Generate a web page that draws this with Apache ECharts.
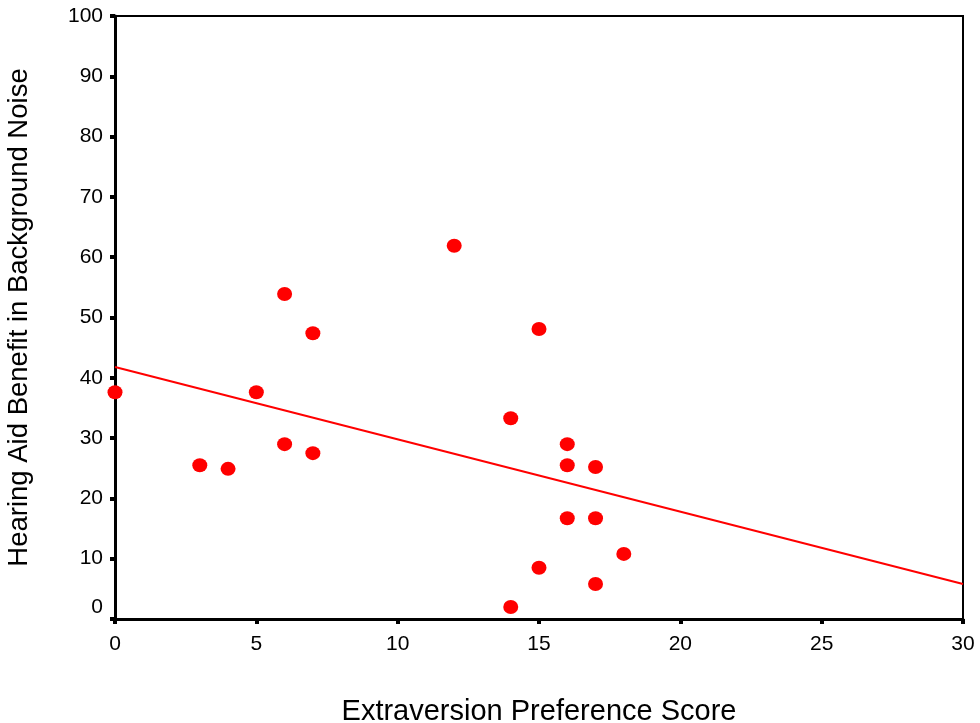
<!DOCTYPE html>
<html>
<head>
<meta charset="utf-8">
<script src="https://cdn.jsdelivr.net/npm/echarts@6/dist/echarts.min.js"></script>
<style>
  html, body { margin: 0; padding: 0; background: #fff; }
  #chart { width: 980px; height: 723px; }
</style>
</head>
<body>
<div id="chart"></div>
<script>
// extraversion score vs benefit
const scoreX = [0, 3, 4, 5, 6, 6, 7, 7, 12, 14, 14, 15, 15, 16, 16, 16, 17, 17, 17, 18];
const benefitY = [37.6, 25.5, 24.9, 37.6, 53.9, 29.0, 47.4, 27.5, 61.9, 33.3, 2.0, 48.1, 8.5, 29.0, 25.5, 16.7, 25.2, 16.7, 5.8, 10.8];
// fitted line end points
const fitX = [0, 30];
const fitY = [41.8, 5.8];

const points = scoreX.map((x, i) => [x, benefitY[i]]);
const fitLine = fitX.map((x, i) => [x, fitY[i]]);

const myChart = echarts.init(document.getElementById('chart'));
const font = 'Liberation Sans, Arial, sans-serif';

const option = {
  backgroundColor: '#fff',
  animation: false,
  grid: {
    left: 115,
    right: 17,
    top: 16,
    bottom: 104,
    outerBoundsMode: 'none',
    containLabel: false,
    show: true,
    borderColor: '#000',
    borderWidth: 2,
  },
  xAxis: {
    type: 'value',
    min: 0,
    max: 30,
    interval: 5,
    name: 'Extraversion Preference Score',
    nameLocation: 'middle',
    nameGap: 78,
    nameTextStyle: { color: '#000', fontSize: 29, fontFamily: font },
    axisLine: { lineStyle: { color: '#000', width: 3 } },
    axisTick: { show: true, length: 5, lineStyle: { color: '#000', width: 4 } },
    axisLabel: { color: '#000', fontSize: 21, fontFamily: font, margin: 15 },
    splitLine: { show: false },
  },
  yAxis: {
    type: 'value',
    min: 0,
    max: 100,
    interval: 10,
    name: 'Hearing Aid Benefit in Background Noise',
    nameLocation: 'middle',
    nameGap: 82,
    nameTextStyle: { color: '#000', fontSize: 27.5, fontFamily: font },
    axisLine: { lineStyle: { color: '#000', width: 3 } },
    axisTick: { show: true, length: 5, lineStyle: { color: '#000', width: 4 } },
    axisLabel: {
      color: '#000',
      fontSize: 21,
      fontFamily: font,
      margin: 12,
      formatter: (v) => (v === 0 ? '{z|0}' : String(v)),
      rich: {
        z: { fontSize: 21, fontFamily: font, color: '#000', padding: [0, 0, 24, 0] },
      },
    },
    splitLine: { show: false },
  },
  series: [
    {
      type: 'line',
      data: fitLine,
      showSymbol: false,
      lineStyle: { color: '#ff0000', width: 2 },
      z: 2,
    },
    {
      type: 'scatter',
      data: points,
      symbol: 'circle',
      symbolSize: [15, 14],
      itemStyle: { color: '#ff0000', opacity: 1 },
      z: 3,
    },
  ],
};
myChart.setOption(option);
</script>
</body>
</html>
